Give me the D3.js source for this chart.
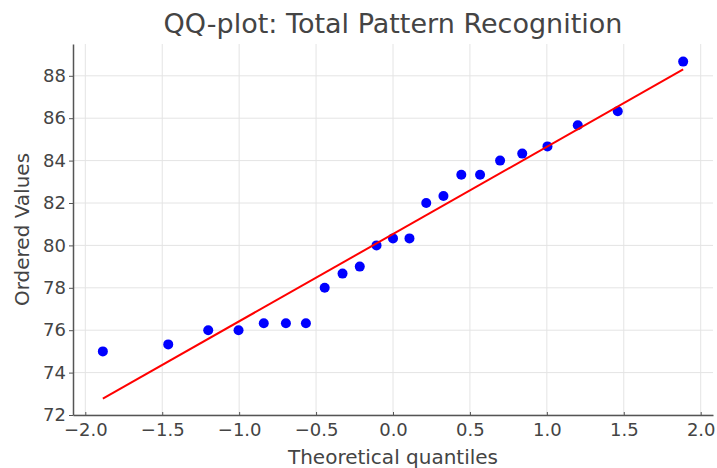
<!DOCTYPE html>
<html>

<head>
    <meta charset="utf-8">
    <title>QQ-plot: Total Pattern Recognition</title>
    <style>
        body {
            margin: 0;
            background: #fff;
        }

        text {
            font-family: "DejaVu Sans", sans-serif;
            fill: #444;
        }
    </style>
    <script src="https://d3js.org/d3.v7.min.js"></script>
</head>

<body>
    <script>
        // theoretical quantiles and ordered scores
        let quantiles = [-1.886, -1.461, -1.201, -1.004, -0.840, -0.696, -0.566, -0.444, -0.328, -0.216, -0.107, 0,
            0.107, 0.216, 0.328, 0.444, 0.566, 0.696, 0.840, 1.004, 1.201, 1.461, 1.886];
        let ordered = [75, 75.33, 76, 76, 76.33, 76.33, 76.33, 78, 78.67, 79, 80, 80.33,
            80.33, 82, 82.33, 83.33, 83.33, 84, 84.33, 84.67, 85.67, 86.33, 88.67];
        let xTicks = [-2.0, -1.5, -1.0, -0.5, 0.0, 0.5, 1.0, 1.5, 2.0];
        let yTicks = [72, 74, 76, 78, 80, 82, 84, 86, 88];

        let width = 717;
        let height = 468;
        let plotLeft = 73, plotRight = 713, plotTop = 44, plotBottom = 415;

        // least squares fit line, like probplot does
        let mx = d3.mean(quantiles), my = d3.mean(ordered);
        let sxy = d3.sum(quantiles, (q, i) => (q - mx) * (ordered[i] - my));
        let sxx = d3.sum(quantiles, q => (q - mx) * (q - mx));
        let slope = sxy / sxx;
        let intercept = my - slope * mx;
        let fitLine = [quantiles[0], quantiles[quantiles.length - 1]].map(q => ({ x: q, y: intercept + slope * q }));

        let x = d3.scaleLinear().domain([-2.08, 2.08]).range([plotLeft, plotRight]);
        let y = d3.scaleLinear().domain([72, 89.5]).range([plotBottom, plotTop]);

        let svg = d3.select("body")
            .append("svg")
            .attr("width", width)
            .attr("height", height);

        // grid
        svg.append("g")
            .selectAll("line")
            .data(xTicks)
            .enter()
            .append("line")
            .attr("x1", d => x(d)).attr("x2", d => x(d))
            .attr("y1", plotTop).attr("y2", plotBottom)
            .style("stroke", "#e4e4e4").style("stroke-width", 1);
        svg.append("g")
            .selectAll("line")
            .data(yTicks)
            .enter()
            .append("line")
            .attr("x1", plotLeft).attr("x2", plotRight)
            .attr("y1", d => y(d)).attr("y2", d => y(d))
            .style("stroke", "#e4e4e4").style("stroke-width", 1);

        // axes
        let xAxis = svg.append("g")
            .attr("transform", `translate(0, ${plotBottom})`)
            .call(d3.axisBottom(x).tickValues(xTicks).tickFormat(d3.format(".1f")).tickSizeInner(-3).tickSizeOuter(0).tickPadding(8));
        let yAxis = svg.append("g")
            .attr("transform", `translate(${plotLeft}, 0)`)
            .call(d3.axisLeft(y).tickValues(yTicks).tickSizeInner(4).tickSizeOuter(0).tickPadding(3));

        [xAxis, yAxis].forEach(g => {
            g.select(".domain").style("stroke", "#555").style("stroke-width", 1.5);
            g.selectAll(".tick line").style("stroke", "#555");
            g.selectAll(".tick text")
                .style("font-family", "DejaVu Sans, sans-serif")
                .style("font-size", "18px")
                .style("fill", "#444");
        });

        // points
        svg.append("g")
            .selectAll("circle")
            .data(quantiles)
            .enter()
            .append("circle")
            .attr("cx", d => x(d))
            .attr("cy", (d, i) => y(ordered[i]))
            .attr("r", 5)
            .style("fill", "#0000ff");

        // fit line
        svg.append("path")
            .datum(fitLine)
            .attr("d", d3.line().x(d => x(d.x)).y(d => y(d.y)))
            .style("fill", "none")
            .style("stroke", "#ff0000")
            .style("stroke-width", 2);

        // labels
        svg.append("text")
            .attr("x", (plotLeft + plotRight) / 2)
            .attr("y", 33)
            .attr("text-anchor", "middle")
            .style("font-size", "27px")
            .text("QQ-plot: Total Pattern Recognition");

        svg.append("text")
            .attr("x", (plotLeft + plotRight) / 2)
            .attr("y", 464)
            .attr("text-anchor", "middle")
            .style("font-size", "20px")
            .text("Theoretical quantiles");

        svg.append("text")
            .attr("transform", `translate(29, ${(plotTop + plotBottom) / 2}) rotate(-90)`)
            .attr("text-anchor", "middle")
            .style("font-size", "20px")
            .text("Ordered Values");
    </script>
</body>

</html>
